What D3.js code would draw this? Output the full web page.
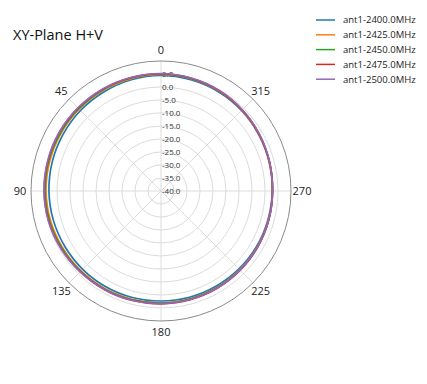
<!DOCTYPE html>
<html>
<head>
<meta charset="utf-8">
<script src="https://cdn.jsdelivr.net/npm/d3@7"></script>
<style>
body { margin: 0; background: #fff; }
text { font-family: "Open Sans", "Noto Sans", sans-serif; }
</style>
</head>
<body>
<div id="chart"></div>
<script>
var angles = d3.range(0, 360, 15);
var seriesNames = ['ant1-2400.0MHz', 'ant1-2425.0MHz', 'ant1-2450.0MHz', 'ant1-2475.0MHz', 'ant1-2500.0MHz'];
var colors = ['#1f77b4', '#ff7f0e', '#2ca02c', '#d62728', '#9467bd'];
var s2400 = [4.5,4.3,4.0,3.8,3.5,3.3,3.1,2.9,2.7,2.6,2.5,2.4,2.3,2.3,2.3,2.4,2.5,2.6,2.8,3.1,3.4,3.8,4.1,4.3];
var s2425 = [4.8,4.7,4.6,4.5,4.4,4.3,4.2,4.0,3.7,3.5,3.3,3.1,3.0,2.9,2.9,2.8,2.8,2.8,2.9,3.1,3.5,4.0,4.4,4.7];
var s2450 = [5.0,5.0,4.9,4.8,4.7,4.7,4.6,4.4,4.0,3.7,3.5,3.3,3.1,3.0,3.0,2.9,2.9,2.9,2.9,3.2,3.6,4.1,4.5,4.8];
var s2475 = [5.1,5.1,5.1,5.1,5.1,5.0,4.9,4.7,4.3,3.9,3.7,3.5,3.4,3.3,3.2,3.1,3.0,2.9,2.9,3.2,3.6,4.1,4.6,4.9];
var s2500 = [5.2,5.2,5.2,5.2,5.2,5.1,5.0,4.8,4.4,4.0,3.7,3.5,3.3,3.2,3.1,3.0,2.9,2.9,2.9,3.2,3.7,4.2,4.7,5.0];
var series = [s2400, s2425, s2450, s2475, s2500];
var ringTicks = [5, 0, -5, -10, -15, -20, -25, -30, -35, -40];
var angleTicks = [0, 45, 90, 135, 180, 225, 270, 315];

var width = 427, height = 384;
var cx = 161, cy = 191, outer = 130;

var svg = d3.select('#chart').append('svg')
	.attr('width', width)
	.attr('height', height);

var r = d3.scaleLinear().domain([-40, 10]).range([0, outer]);
// degrees counterclockwise from top -> d3 radial angle
var a = function (deg) { return -deg * Math.PI / 180; };

var g = svg.append('g').attr('transform', 'translate(' + cx + ',' + cy + ')');

// rings
g.selectAll('circle.ring')
	.data(ringTicks.filter(function (d) { return d > -40; }))
	.enter().append('circle')
	.attr('r', function (d) { return r(d); })
	.attr('fill', 'none')
	.attr('stroke', '#dcdcdc')
	.attr('stroke-width', 1);

// spokes
g.selectAll('line.spoke')
	.data(angleTicks)
	.enter().append('line')
	.attr('x1', 0).attr('y1', 0)
	.attr('x2', function (d) { return outer * Math.sin(a(d)); })
	.attr('y2', function (d) { return -outer * Math.cos(a(d)); })
	.attr('stroke', '#dcdcdc')
	.attr('stroke-width', 1);

g.append('circle')
	.attr('r', outer)
	.attr('fill', 'none')
	.attr('stroke', '#8a8a8a')
	.attr('stroke-width', 1);

// radial labels
g.selectAll('text.rlab')
	.data(ringTicks)
	.enter().append('text')
	.attr('x', 1)
	.attr('y', function (d) { return -r(d); })
	.attr('dy', '0.35em')
	.attr('font-size', 8)
	.attr('fill', '#333')
	.text(function (d) { return d.toFixed(1); });

// angle labels
g.selectAll('text.alab')
	.data(angleTicks)
	.enter().append('text')
	.attr('x', function (d) { return 141 * Math.sin(a(d)); })
	.attr('y', function (d) { return -141 * Math.cos(a(d)); })
	.attr('dy', '0.35em')
	.attr('text-anchor', 'middle')
	.attr('font-size', 11)
	.attr('fill', '#222')
	.text(function (d) { return d; });

var line = d3.lineRadial()
	.angle(function (d, i) { return a(angles[i]); })
	.radius(function (d) { return r(d); })
	.curve(d3.curveCardinalClosed);

g.selectAll('path.trace')
	.data(series)
	.enter().append('path')
	.attr('d', line)
	.attr('fill', 'none')
	.attr('stroke', function (d, i) { return colors[i]; })
	.attr('stroke-width', 1.7);

svg.append('text')
	.attr('x', 13)
	.attr('y', 40)
	.attr('font-size', 14.5)
	.attr('fill', '#111')
	.text('XY-Plane H+V');

var leg = svg.selectAll('g.leg')
	.data(seriesNames)
	.enter().append('g')
	.attr('transform', function (d, i) { return 'translate(316,' + (20 + i * 14.8) + ')'; });
leg.append('line')
	.attr('x1', 0).attr('x2', 19)
	.attr('stroke', function (d, i) { return colors[i]; })
	.attr('stroke-width', 1.5);
leg.append('text')
	.attr('x', 27)
	.attr('dy', '0.35em')
	.attr('font-size', 9.5)
	.attr('fill', '#222')
	.text(function (d) { return d; });
</script>
</body>
</html>
